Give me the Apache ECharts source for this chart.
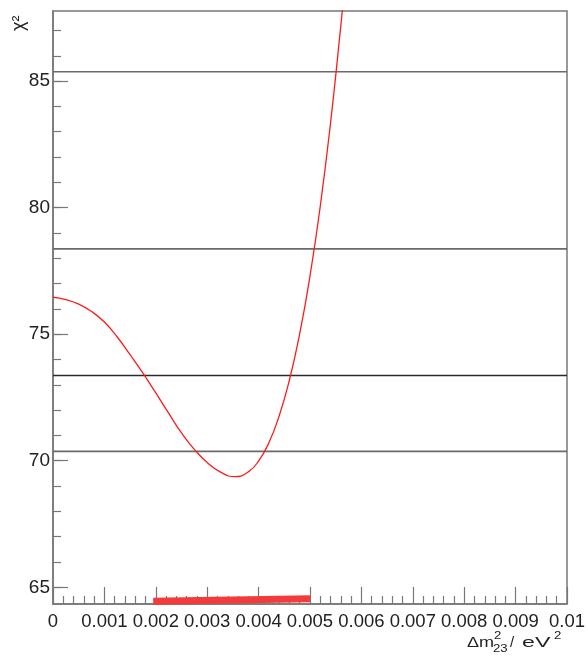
<!DOCTYPE html>
<html>
<head>
<meta charset="utf-8">
<script src="https://cdn.jsdelivr.net/npm/echarts@6/dist/echarts.min.js"></script>
<style>
  html, body { margin: 0; padding: 0; background: #fff; }
  #chart { width: 588px; height: 656px; }
</style>
</head>
<body>
<div id="chart"></div>
<script>
// chi2 scan vs delta m^2_23 (eV^2)
const dm2 = [0, 0.00025, 0.0005, 0.00075, 0.001, 0.00125, 0.0015, 0.00175, 0.002, 0.00225,
  0.0025, 0.00275, 0.003, 0.00325, 0.00354, 0.0038, 0.004, 0.0042, 0.0044, 0.0046,
  0.0048, 0.005, 0.0052, 0.0054, 0.0056, 0.00565]
const chi2 = [76.46, 76.37, 76.19, 75.90, 75.48, 74.89, 74.19, 73.46, 72.68, 71.88,
  71.10, 70.45, 69.93, 69.56, 69.37, 69.56, 69.99, 70.71, 71.77, 73.19,
  75.02, 77.30, 80.06, 83.35, 87.19, 88.25]

// horizontal levels (min + 1, 4, 9, 16)
const levels = [70.37, 73.37, 78.37, 85.37]
const levelColors = ['#6a6a6a', '#2a2a2a', '#6a6a6a', '#6a6a6a']

// allowed range band at the bottom
const bandX = [0.00195, 0.005]
const bandY = [64.45, 64.55]

const yTicks = [65, 70, 75, 80, 85]
const yMinorTicks = [65, 66, 67, 68, 69, 70, 71, 72, 73, 74, 75, 76, 77, 78, 79, 80, 81, 82, 83, 84, 85, 86, 87]

const yMin = 64.34
const yMax = 87.77

let myChart = echarts.init(document.getElementById('chart'))

const axisGray = '#777'
const txt = '#222'
const font = 'Liberation Sans, Arial, sans-serif'

let series = []
levels.forEach((v, i) => {
  series.push({
    type: 'line',
    data: [[0, v], [0.01, v]],
    symbol: 'none',
    lineStyle: { color: levelColors[i], width: 1.6 },
    silent: true,
    z: 2
  })
})
series.push({
  type: 'line',
  data: dm2.map((x, i) => [x, chi2[i]]),
  smooth: 0.5,
  symbol: 'none',
  lineStyle: { color: '#ff1a1a', width: 1.3 },
  z: 3
})
series.push({
  type: 'line',
  data: bandX.map((x, i) => [x, bandY[i]]),
  symbol: 'none',
  lineStyle: { color: '#f43a3a', width: 7, cap: 'butt' },
  z: 4
})

// axis title pieces
const big = { font: '15px ' + font, fill: txt }
const small = { font: '11px ' + font, fill: txt }

let option = {
  animation: false,
  textStyle: { fontFamily: font },
  grid: {
    left: 53, right: 21, top: 11, bottom: 52,
    show: true, borderColor: axisGray, borderWidth: 1.5
  },
  xAxis: {
    type: 'value',
    min: 0, max: 0.01, interval: 0.001,
    axisLine: { show: true, lineStyle: { color: axisGray, width: 1.5 } },
    axisTick: { show: true, inside: true, length: 17, lineStyle: { color: axisGray, width: 1.2 } },
    minorTick: { show: true, splitNumber: 5, length: 8, lineStyle: { color: axisGray, width: 1.2 } },
    axisLabel: {
      margin: 8, fontSize: 18.5, color: txt, fontFamily: font,
      formatter: v => String(+v.toFixed(4))
    },
    splitLine: { show: false }
  },
  yAxis: [{
    type: 'value',
    min: yMin, max: yMax,
    position: 'left',
    axisLine: { show: true, lineStyle: { color: axisGray, width: 1.5 } },
    axisTick: { show: true, inside: true, length: 15, customValues: yTicks, lineStyle: { color: axisGray, width: 1.2 } },
    axisLabel: { margin: 3, fontSize: 19, color: txt, fontFamily: font, customValues: yTicks },
    splitLine: { show: false }
  }, {
    type: 'value',
    min: yMin, max: yMax,
    position: 'left',
    axisLine: { show: false },
    axisTick: { show: true, inside: true, length: 8, customValues: yMinorTicks, lineStyle: { color: axisGray, width: 1.2 } },
    axisLabel: { show: false },
    splitLine: { show: false }
  }],
  graphic: [
    { type: 'text', x: 10, y: 31, rotation: Math.PI / 2,
      style: { text: 'χ²', font: '18px ' + font, fill: txt, textVerticalAlign: 'top' } },
    { type: 'text', x: 467, y: 635, scaleX: 1.2, style: Object.assign({ text: 'Δm' }, big) },
    { type: 'text', x: 494, y: 630, scaleX: 1.2, style: Object.assign({ text: '2' }, small) },
    { type: 'text', x: 493, y: 643, scaleX: 1.2, style: Object.assign({ text: '23' }, small) },
    { type: 'text', x: 510, y: 635, style: Object.assign({ text: '/' }, big) },
    { type: 'text', x: 522, y: 635, scaleX: 1.55, style: Object.assign({ text: 'eV' }, big) },
    { type: 'text', x: 554, y: 630, scaleX: 1.2, style: Object.assign({ text: '2' }, small) }
  ],
  series: series
}

myChart.setOption(option)
</script>
</body>
</html>
